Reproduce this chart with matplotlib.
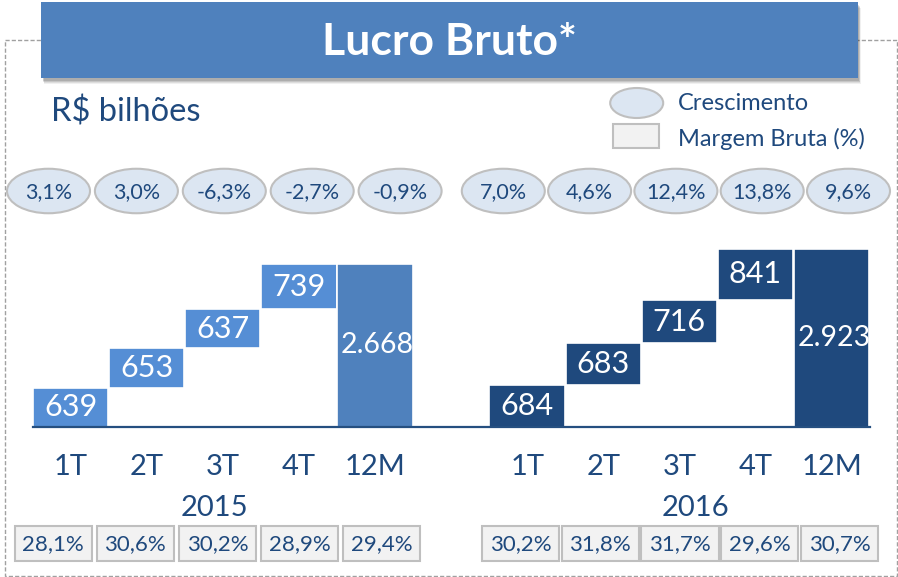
import matplotlib
matplotlib.use("Agg")
import matplotlib.pyplot as plt
from matplotlib.patches import Rectangle, Ellipse
import numpy as np

# ---------------- data ----------------
quarters = ['1T', '2T', '3T', '4T', '12M']
years = ['2015', '2016']
lucro_2015 = [639, 653, 637, 739, 2668]
lucro_2016 = [684, 683, 716, 841, 2923]
cresc_2015 = [3.1, 3.0, -6.3, -2.7, -0.9]
cresc_2016 = [7.0, 4.6, 12.4, 13.8, 9.6]
margem_2015 = [28.1, 30.6, 30.2, 28.9, 29.4]
margem_2016 = [30.2, 31.8, 31.7, 29.6, 30.7]

FONT = ['Lato', 'DejaVu Sans']
plt.rcParams['font.family'] = FONT
NAVY = '#1F497D'
LIGHT = '#558ED5'
MID = '#4F81BD'

W, H = 898, 577
fig = plt.figure(figsize=(W / 100, H / 100), dpi=100)

# overlay axes in pixel coordinates for layout decorations
ov = fig.add_axes([0, 0, 1, 1])
ov.set_xlim(0, W)
ov.set_ylim(H, 0)
ov.axis('off')


def fmt_pct(v):
    return f"{v:.1f}".replace('.', ',') + '%'


def fmt_thousand(v):
    return f"{v:,}".replace(',', '.')


# dashed frame
ov.add_patch(Rectangle((5, 40), 891.5, 535.5, fill=False, ec='#A0A0A0', lw=1,
                       ls=(0, (3, 1.5)), zorder=1))

# title box with shadow
for k, a in enumerate([0.06, 0.08, 0.10, 0.12]):
    off = 6 - k
    ov.add_patch(Rectangle((41 + off * 0.5, 2 + off), 816.7, 76, fc='black', ec='none',
                           alpha=a, zorder=2))
ov.add_patch(Rectangle((41, 2), 816.7, 76, fc=MID, ec='none', zorder=3))
ov.text(449, 42, 'Lucro Bruto*', color='white', fontsize=32, fontweight='bold',
        ha='center', va='center', zorder=4)

ov.text(51, 112, 'R$ bilhões', color=NAVY, fontsize=23.5, ha='left', va='center')

# legend
ov.add_patch(Ellipse((636.7, 103), 53, 30, fc='#DCE6F2', ec='#BFBFBF', lw=1.5))
ov.add_patch(Rectangle((613.3, 124.3), 46, 23.4, fc='#F2F2F2', ec='#BFBFBF', lw=1.5))
ov.text(677.7, 103, 'Crescimento', color=NAVY, fontsize=17, ha='left', va='center')
ov.text(677.7, 139, 'Margem Bruta (%)', color=NAVY, fontsize=17, ha='left', va='center')

# growth ellipses
ell_start = [48.5, 503.3]
ell_step = [87.9, 86.3]
for g, vals in enumerate([cresc_2015, cresc_2016]):
    for i, v in enumerate(vals):
        cx = ell_start[g] + ell_step[g] * i
        ov.add_patch(Ellipse((cx, 191), 83, 44.5, fc='#DCE6F2', ec='#BFBFBF', lw=1.5))
        ov.text(cx, 192, fmt_pct(v), color=NAVY, fontsize=15.5, ha='center', va='center')

# margin boxes
box_start = [15, 481.7]
box_step = [82.1, 79.8]
box_w = [76.5, 77.3]
for g, vals in enumerate([margem_2015, margem_2016]):
    for i, v in enumerate(vals):
        x0 = box_start[g] + box_step[g] * i
        ov.add_patch(Rectangle((x0, 526), box_w[g], 35, fc='#F2F2F2', ec='#BFBFBF', lw=1.5))
        ov.text(x0 + box_w[g] / 2, 544, fmt_pct(v), color=NAVY, fontsize=16,
                ha='center', va='center')

# year labels
ov.text(214, 508, years[0], color=NAVY, fontsize=21, ha='center', va='center')
ov.text(695, 508, years[1], color=NAVY, fontsize=21, ha='center', va='center')

# ---------------- bar axes ----------------
base_px = 426.7
ymax = 3000
ppu = 0.0609
ax_left = 32.5
ax_right = 869.6
ax = fig.add_axes([ax_left / W, (H - base_px) / H, (ax_right - ax_left) / W,
                   ymax * ppu / H])
ax.set_xlim(-0.5, 10.5)
ax.set_ylim(0, ymax)
ax.patch.set_visible(False)
for s in ['top', 'right', 'left']:
    ax.spines[s].set_visible(False)
ax.spines['bottom'].set_color('#254F80')
ax.spines['bottom'].set_linewidth(1.6)
ax.set_yticks([])

positions = []
labels = []
for g, (vals, qcol, tcol) in enumerate([(lucro_2015, LIGHT, MID), (lucro_2016, NAVY, NAVY)]):
    offs = g * 6
    cum = 0
    for i, v in enumerate(vals):
        x = offs + i
        if i < 4:
            bottom = cum
            cum += v
            col = qcol
            fs = 22
        else:
            bottom = 0
            col = tcol
            fs = 20.5
        ax.bar(x, v, bottom=bottom, width=0.99, color=col, edgecolor='white',
               linewidth=1.2, zorder=2)
        ax.text(x + (0.03 if i == 4 else 0), bottom + v / 2, fmt_thousand(v), color='white',
                fontsize=fs, ha='center', va='center', zorder=3, clip_on=False)
        positions.append(x)
        labels.append(quarters[i])

ax.set_xticks(positions)
ax.set_xticklabels(labels, fontsize=21, color=NAVY)
ax.tick_params(axis='x', length=0, pad=20)

fig.savefig('out.png', dpi=100)
